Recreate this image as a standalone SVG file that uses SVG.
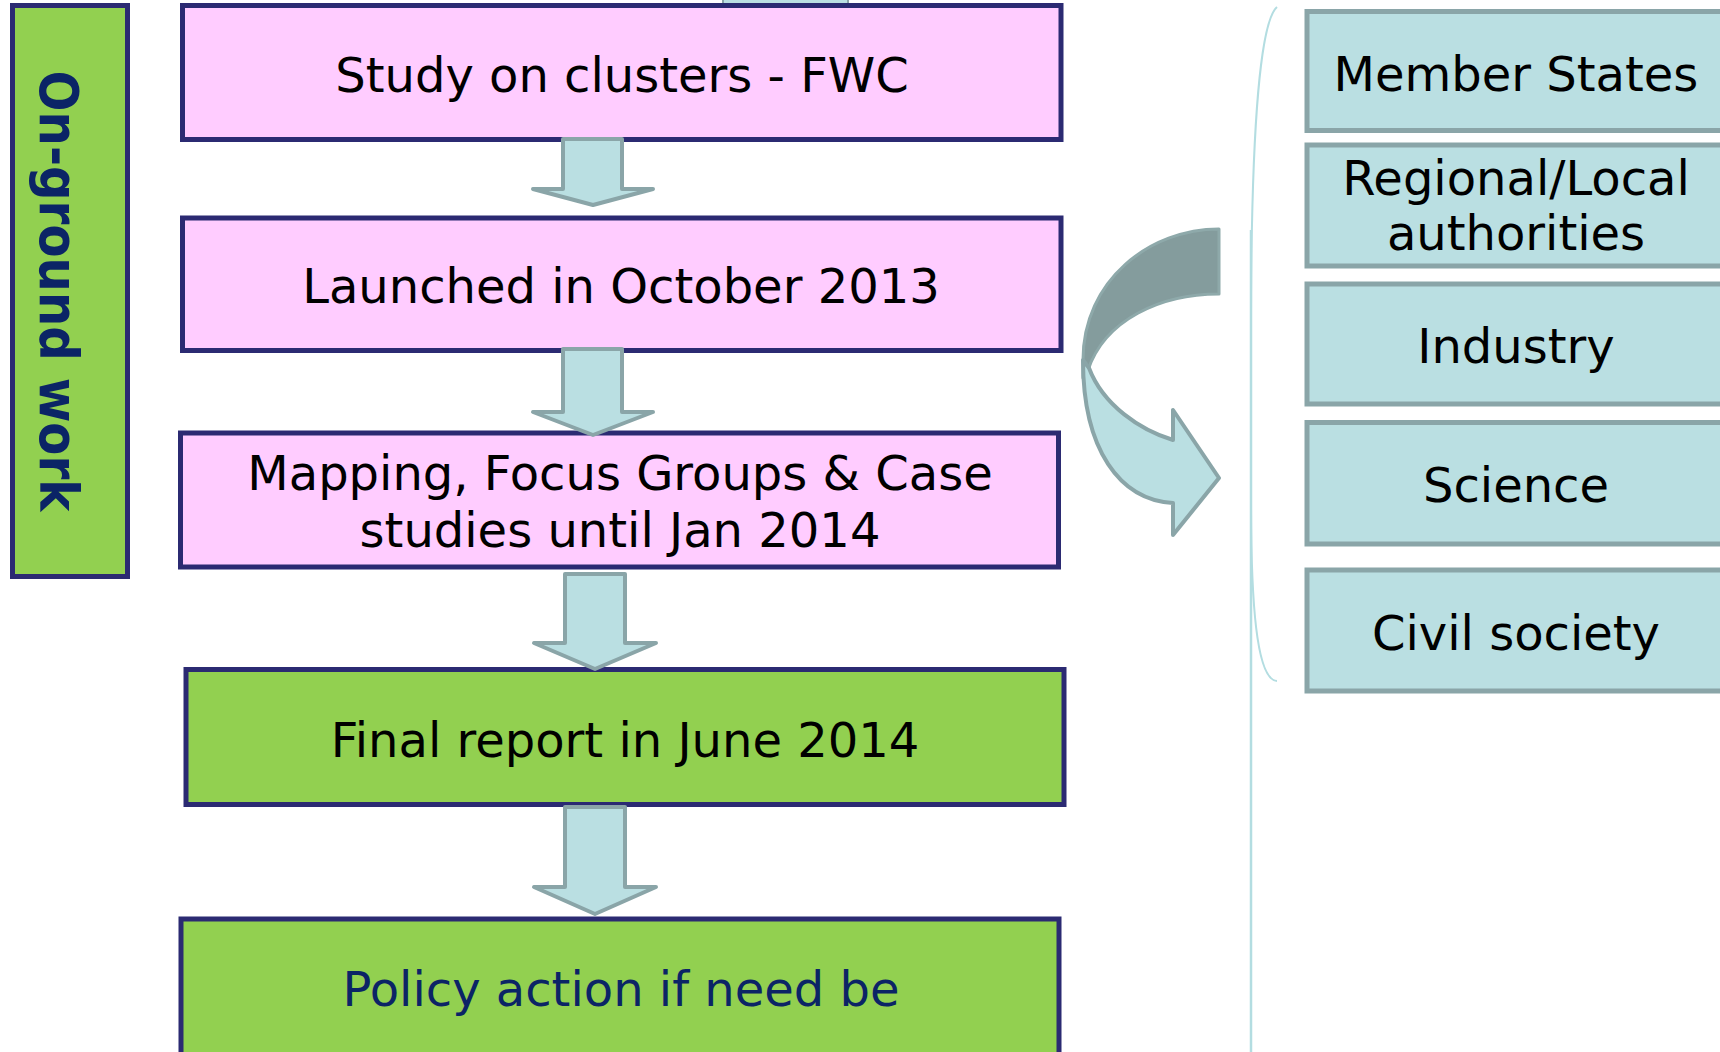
<svg xmlns="http://www.w3.org/2000/svg" width="1720" height="1052" viewBox="0 0 1720 1052">
<style>
.bx{stroke:#2b2a72;stroke-width:5}
.pink{fill:#ffccff}
.green{fill:#92d050}
.rb{fill:#badfe2;stroke:#8aa5a8;stroke-width:5}
.t{font-family:"DejaVu Sans","Verdana",sans-serif;font-size:48px;fill:#000;text-anchor:middle}
.navy{fill:#0b2466}
.arr{fill:#badfe2;stroke:#8aa5a8;stroke-width:4;stroke-linejoin:round}
.ln{fill:none;stroke:#b3dde1}
</style>
<rect width="1720" height="1052" fill="#ffffff"/>
<rect x="723" y="-10" width="125" height="14" fill="#badfe2" stroke="#8aa5a8" stroke-width="2"/>
<g id="side">
<rect class="bx green" x="12.5" y="5.5" width="115" height="571"/>
<text transform="translate(40,291) rotate(90)" font-family="DejaVu Sans, Verdana, sans-serif" font-weight="bold" font-size="53" fill="#0b2466" text-anchor="middle" textLength="441" lengthAdjust="spacingAndGlyphs">On-ground work</text>
</g>
<g id="n1"><rect class="bx pink" x="182.5" y="5.5" width="878.5" height="134"/><text class="t" x="622" y="92">Study on clusters - FWC</text></g>
<g id="n2"><rect class="bx pink" x="182.5" y="218" width="878.5" height="132.5"/><text class="t" x="621" y="303">Launched in October 2013</text></g>
<g id="n3"><rect class="bx pink" x="180.5" y="433" width="878" height="134"/><text class="t" x="620" y="490">Mapping, Focus Groups &amp; Case</text><text class="t" x="620" y="547">studies until Jan 2014</text></g>
<g id="n4"><rect class="bx green" x="186" y="669.5" width="878" height="135"/><text class="t" x="625" y="757">Final report in June 2014</text></g>
<g id="n5"><rect class="bx green" x="181" y="919" width="878" height="150"/><text class="t navy" x="621" y="1006">Policy action if need be</text></g>
<g id="bracket">
<path class="ln" stroke-width="2" d="M1277,7 C1262,20 1251,110 1251,330 L1251,500 C1251,600 1256,680 1277,681"/>
<line class="ln" stroke-width="2.5" x1="1251" y1="230" x2="1251" y2="1052"/>
</g>
<g id="s1"><rect class="rb" x="1307" y="11.5" width="420" height="119"/><text class="t" x="1516" y="91">Member States</text></g>
<g id="s2"><rect class="rb" x="1307" y="145" width="420" height="121"/><text class="t" x="1516" y="195">Regional/Local</text><text class="t" x="1516" y="250">authorities</text></g>
<g id="s3"><rect class="rb" x="1307" y="284" width="420" height="120"/><text class="t" x="1516" y="363">Industry</text></g>
<g id="s4"><rect class="rb" x="1307" y="422.5" width="420" height="121.5"/><text class="t" x="1516" y="502">Science</text></g>
<g id="s5"><rect class="rb" x="1307" y="570" width="420" height="121"/><text class="t" x="1516" y="650">Civil society</text></g>
<g id="connectors">
<path class="arr" d="M563,139 L622,139 L622,189 L653,189 L593,205 L533,189 L563,189 Z"/>
<path class="arr" d="M563,349 L622,349 L622,412 L653,412 L593,435 L533,412 L563,412 Z"/>
<path class="arr" d="M565,574 L625,574 L625,643 L656,643 L595,669 L534,643 L565,643 Z"/>
<path class="arr" d="M565,807 L625,807 L625,887 L656,887 L595,914 L534,887 L565,887 Z"/>
<path d="M1219,229 L1219,294 C1160,294 1105,320 1088,370 L1083,378 L1083,360 C1083,280 1150,229 1219,229 Z" fill="#849c9d" stroke="#8ea9aa" stroke-width="3" stroke-linejoin="round"/>
<path class="arr" d="M1083,360 C1083,450 1120,500 1173,503 L1173,535 L1219,478 L1173,410 L1173,440 C1140,430 1103,405 1089,368 Z"/>
</g>
</svg>
